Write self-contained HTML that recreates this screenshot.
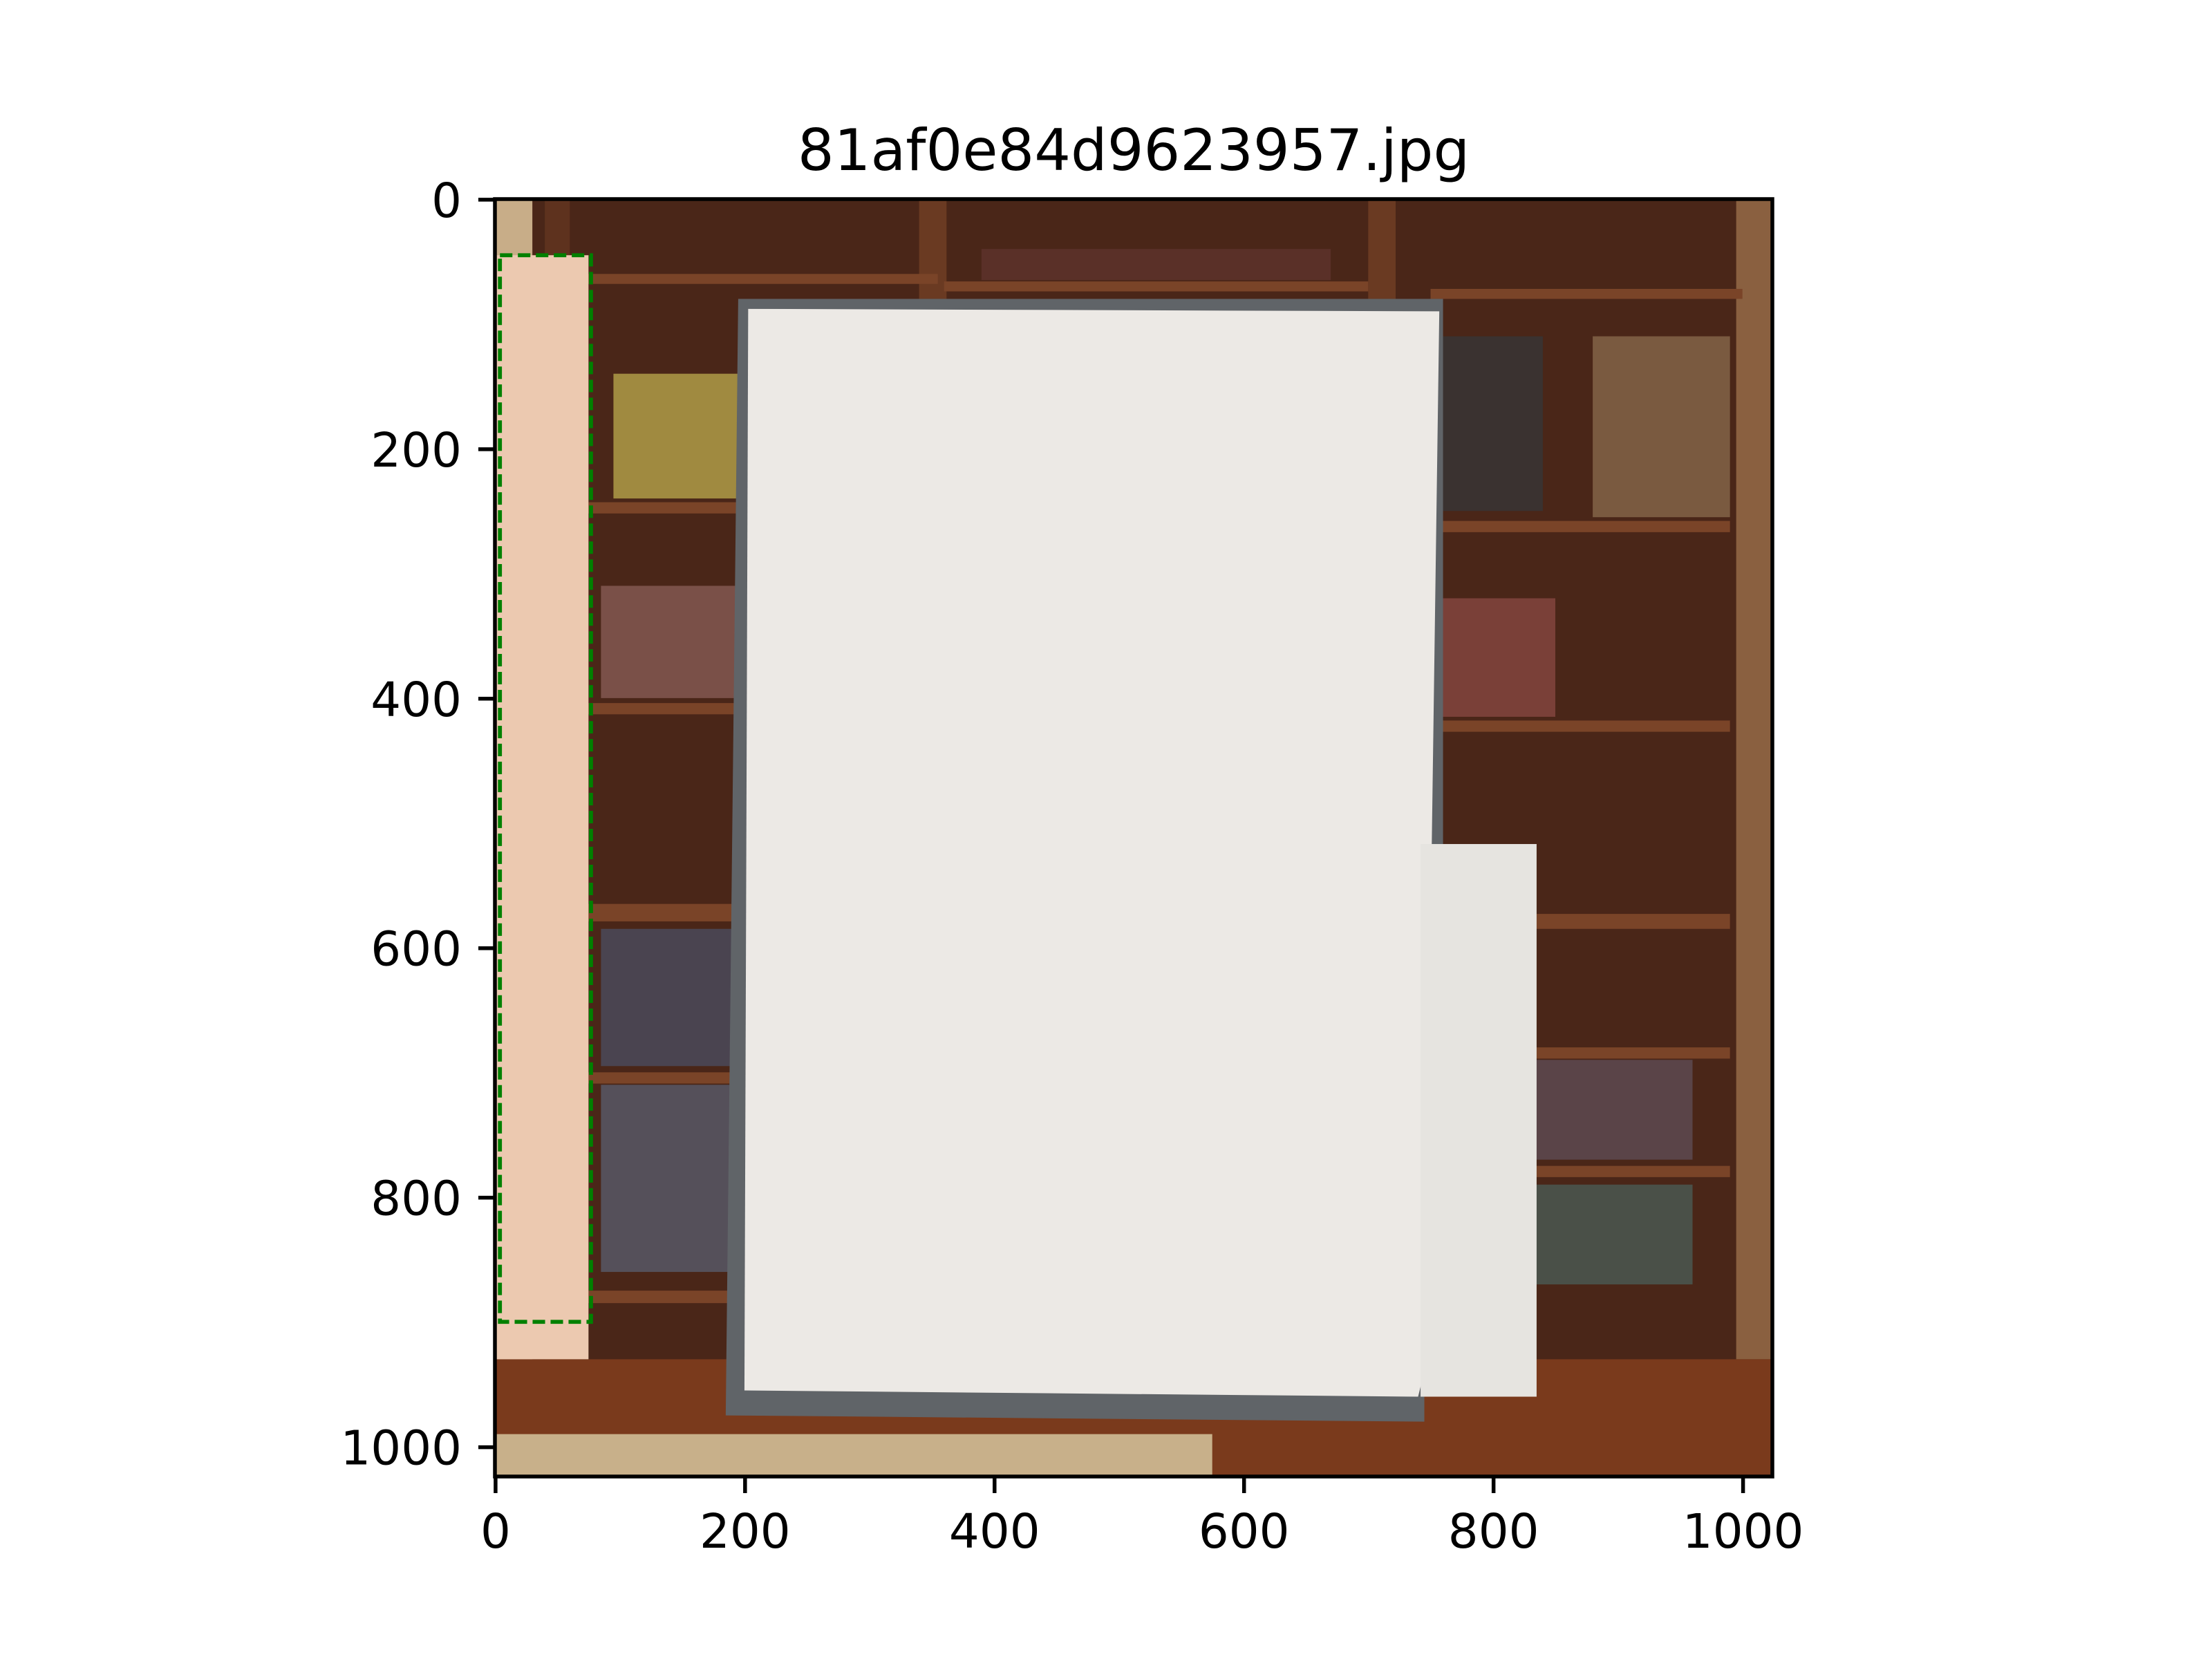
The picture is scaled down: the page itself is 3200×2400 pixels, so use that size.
<!DOCTYPE html>
<html><head><meta charset="utf-8"><style>
html,body{margin:0;padding:0;background:#fff}
svg{display:block}
text{font-family:"DejaVu Sans","Liberation Sans",sans-serif;fill:#000}
</style></head><body>
<svg id="fig" width="3200" height="2400" viewBox="0 0 3200 2400" xmlns="http://www.w3.org/2000/svg">
<rect width="3200" height="2400" fill="#fff"/>
<text x="1640" y="246" font-size="83" text-anchor="middle">81af0e84d9623957.jpg</text>
<defs><clipPath id="ax"><rect x="0" y="0" width="1024" height="1024"/></clipPath></defs>
<g id="img" transform="translate(716,288) scale(1.8047)" clip-path="url(#ax)">
  <rect x="0" y="0" width="1024" height="1024" fill="#4a2618"/>
  <rect x="0" y="0" width="30" height="930" fill="#c8ad88"/>
  <rect x="995" y="0" width="29" height="930" fill="#8a6040"/>
  <rect x="40" y="0" width="20" height="930" fill="#5e321e"/>
  <rect x="340" y="0" width="22" height="80" fill="#6a3a22"/>
  <rect x="700" y="0" width="22" height="80" fill="#6a3a22"/>
  <rect x="75" y="60" width="280" height="8" fill="#7a4428"/>
  <rect x="360" y="66" width="340" height="8" fill="#7a4428"/>
  <rect x="750" y="72" width="250" height="8" fill="#7a4428"/>
  <rect x="75" y="243" width="120" height="9" fill="#7a4428"/>
  <rect x="75" y="404" width="120" height="9" fill="#7a4428"/>
  <rect x="75" y="565" width="120" height="14" fill="#7a4428"/>
  <rect x="75" y="700" width="120" height="9" fill="#7a4428"/>
  <rect x="75" y="875" width="120" height="10" fill="#7a4428"/>
  <rect x="750" y="258" width="240" height="9" fill="#7a4428"/>
  <rect x="750" y="418" width="240" height="9" fill="#7a4428"/>
  <rect x="820" y="573" width="170" height="12" fill="#7a4428"/>
  <rect x="820" y="680" width="170" height="9" fill="#7a4428"/>
  <rect x="820" y="775" width="170" height="9" fill="#7a4428"/>
  <rect x="95" y="140" width="110" height="100" fill="#a08a40"/>
  <rect x="85" y="310" width="120" height="90" fill="#7a5048"/>
  <rect x="85" y="585" width="115" height="110" fill="#4a4450"/>
  <rect x="85" y="710" width="115" height="150" fill="#55505a"/>
  <rect x="760" y="110" width="80" height="140" fill="#3a3230"/>
  <rect x="880" y="110" width="110" height="145" fill="#7a5a40"/>
  <rect x="750" y="320" width="100" height="95" fill="#7a4038"/>
  <rect x="830" y="690" width="130" height="80" fill="#5a4448"/>
  <rect x="830" y="790" width="130" height="80" fill="#4a5048"/>
  <rect x="390" y="40" width="280" height="25" fill="#5a3028"/>
  <rect x="0" y="930" width="1024" height="94" fill="#7a3a1c"/>
  <rect x="0" y="990" width="575" height="34" fill="#c8b08a"/>
  <rect x="0" y="45" width="75" height="885" fill="#ecc9b0"/>
  <polygon points="195,80 760,80 760,590 745,590 745,980 185,975" fill="#606468"/>
  <polygon points="203,88 757,90 745,940 740,960 200,955" fill="#ece9e5"/>
  <rect x="742" y="517" width="93" height="443" fill="#e6e4e0"/>
</g>
<g id="overlay" transform="translate(716,288) scale(1.8047)">
  <rect x="4" y="45" width="73" height="855" fill="none" stroke="#008000" stroke-width="3.2" stroke-dasharray="10,4.4"/>
</g>
<rect x="716" y="288" width="1848" height="1848" fill="none" stroke="#000" stroke-width="5.5"/>
<g id="xt"></g>
<g id="yt"></g>
<script>
const xTicks=[0,200,400,600,800,1000];
const yTicks=[0,200,400,600,800,1000];
const X0=716,Y0=288,S=1.8047,W=1848;
function sx(v){return X0+(v+0.5)*S;}
function sy(v){return Y0+(v+0.5)*S;}
const ns='http://www.w3.org/2000/svg';
const xg=document.getElementById('xt'),yg=document.getElementById('yt');
xTicks.forEach(t=>{
  const l=document.createElementNS(ns,'line');
  l.setAttribute('x1',sx(t));l.setAttribute('x2',sx(t));l.setAttribute('y1',Y0+W);l.setAttribute('y2',Y0+W+24);
  l.setAttribute('stroke','#000');l.setAttribute('stroke-width','5.5');
  
  
  xg.appendChild(l);
  const tx=document.createElementNS(ns,'text');
  tx.setAttribute('x',sx(t));tx.setAttribute('y',Y0+W+24+24+55);tx.setAttribute('font-size','69');tx.setAttribute('text-anchor','middle');
  tx.textContent=t;
  
  
  xg.appendChild(tx);
});
yTicks.forEach(t=>{
  const l=document.createElementNS(ns,'line');
  l.setAttribute('x1',X0-24);l.setAttribute('x2',X0);l.setAttribute('y1',sy(t));l.setAttribute('y2',sy(t));
  l.setAttribute('stroke','#000');l.setAttribute('stroke-width','5.5');
  
  
  yg.appendChild(l);
  const tx=document.createElementNS(ns,'text');
  tx.setAttribute('x',X0-24-24);tx.setAttribute('y',sy(t)+25);tx.setAttribute('font-size','69');tx.setAttribute('text-anchor','end');
  tx.textContent=t;
  
  
  yg.appendChild(tx);
});
</script>
</svg>
</body></html>
